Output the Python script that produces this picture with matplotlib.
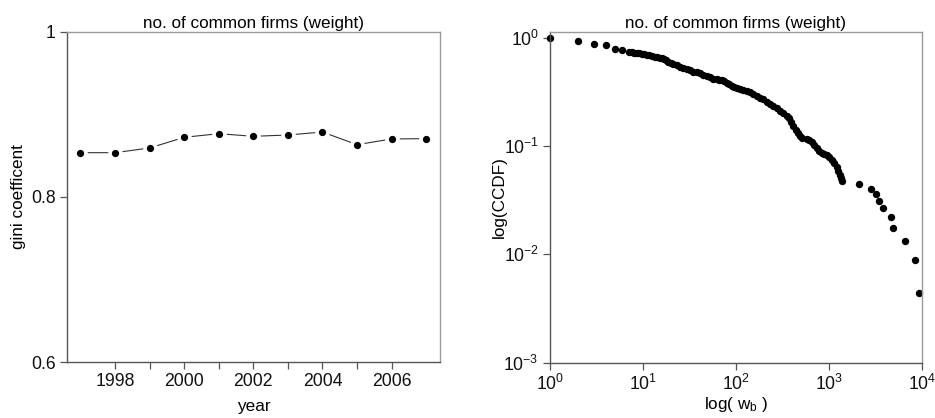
import matplotlib
matplotlib.use("Agg")
import matplotlib.pyplot as plt
import numpy as np

plt.rcParams['font.family'] = ['Liberation Sans', 'DejaVu Sans']
plt.rcParams['mathtext.fontset'] = 'custom'
plt.rcParams['mathtext.rm'] = 'Liberation Sans'
plt.rcParams['mathtext.it'] = 'Liberation Sans'

# ---- left panel data ----
years = [1997, 1998, 1999, 2000, 2001, 2002, 2003, 2004, 2005, 2006, 2007]
gini = [0.8536, 0.8536, 0.8593, 0.8722, 0.8766, 0.8734, 0.8750, 0.8786, 0.8633, 0.8702, 0.8706]
year_ticks = [1998, 1999, 2000, 2001, 2002, 2003, 2004, 2005, 2006]
year_labels = ['1998', '', '2000', '', '2002', '', '2004', '', '2006']
gini_ticks = [0.6, 0.8, 1.0]
gini_labels = ['0.6', '0.8', '1']

# ---- right panel data ----
weight = [1, 2, 3, 4, 5, 6,
          7.14, 7.63, 8.08, 8.56, 9.15, 9.69, 10.35, 10.97, 11.72, 12.52,
          13.49, 14.29, 15.26, 16.04, 16.86, 17.72, 18.77, 19.89, 21.24, 23.08,
          25.06, 27.22, 29.56, 32.10, 34.86, 37.87, 41.14, 44.67, 48.52, 52.71,
          57.24, 62.17, 66.41, 70.37, 74.56, 79.64, 85.09, 90.14, 95.50, 102.0,
          110.8, 120.4, 130.7, 142.0, 154.2, 167.5, 181.9, 197.6, 214.5, 233.0,
          253.1, 274.9, 298.5, 324.3, 352.3, 376.3, 395.4, 415.5, 443.9, 470.3,
          490.1, 510.8, 578.1, 617.6, 654.3, 693.2, 740.5, 791.1, 838.2, 888.1,
          948.9, 1013.7, 1074, 1138, 1216, 1267, 1320, 1365, 1399,
          2130, 2826, 3222, 3494, 3862, 4636, 4946, 6607, 8467, 9346]
ccdf = [1.0, 0.93, 0.88, 0.857, 0.79, 0.768,
        0.7395, 0.7342, 0.7291, 0.7240, 0.7188, 0.7138, 0.7087, 0.6987, 0.6889, 0.6792,
        0.6697, 0.6649, 0.6555, 0.6463, 0.6372, 0.6194, 0.6021, 0.5895, 0.5730, 0.5569,
        0.5414, 0.5263, 0.5116, 0.5006, 0.4869, 0.4800, 0.4699, 0.4567, 0.4440, 0.4316,
        0.4196, 0.4137, 0.4108, 0.4079, 0.3965, 0.3854, 0.3719, 0.3590, 0.3489, 0.3416,
        0.3368, 0.3297, 0.3251, 0.3182, 0.3050, 0.2903, 0.2802, 0.2704, 0.2573, 0.2448,
        0.2346, 0.2233, 0.2126, 0.2008, 0.1911, 0.1805, 0.1682, 0.1534, 0.1409, 0.1312,
        0.1241, 0.1180, 0.1163, 0.1139, 0.1100, 0.1031, 0.0968, 0.0908, 0.0870, 0.0852,
        0.0828, 0.0788, 0.0745, 0.0704, 0.0646, 0.0594, 0.0541, 0.0508, 0.0480,
        0.0443, 0.0401, 0.0358, 0.0311, 0.0267, 0.0221, 0.0177, 0.0132, 0.0088, 0.0044]
w_ticks = [1, 10, 100, 1000, 10000]
w_labels = [r'$10^{0}$', r'$10^{1}$', r'$10^{2}$', r'$10^{3}$', r'$10^{4}$']
c_ticks = [0.001, 0.01, 0.1, 1]
c_labels = [r'$10^{-3}$', r'$10^{-2}$', r'$10^{-1}$', r'$10^{0}$']

title = 'no. of common firms (weight)'

fig = plt.figure(figsize=(9.35, 4.18), dpi=100)
ax1 = fig.add_axes([0.0713, 0.1333, 0.3993, 0.7909])
ax2 = fig.add_axes([0.5882, 0.1323, 0.3975, 0.7910])

def style(ax):
    for s in ['left', 'bottom']:
        ax.spines[s].set_color('#555555')
        ax.spines[s].set_linewidth(1.0)
    for s in ['top', 'right']:
        ax.spines[s].set_color('#9a9a9a')
        ax.spines[s].set_linewidth(1.0)
    ax.tick_params(direction='out', length=5, width=0.9, color='#555555',
                   labelsize=12.7, labelcolor='#111111')
    ax.tick_params(axis='x', pad=3)
    ax.tick_params(axis='y', pad=3)
    ax.minorticks_off()

# left panel
ax1.plot(years, gini, color='#333333', lw=0.8, zorder=1)
ax1.plot(years, gini, ls='none', marker='o', ms=9.5, mfc='white', mec='white', zorder=2)
ax1.plot(years, gini, ls='none', marker='o', ms=4.2, mfc='black', mec='black', zorder=3)
ax1.set_xlim(1996.6, 2007.4)
ax1.set_ylim(0.6, 1.0)
ax1.set_xticks(year_ticks)
ax1.set_xticklabels(year_labels)
ax1.set_yticks(gini_ticks)
ax1.set_yticklabels(gini_labels)
ax1.set_title(title, fontsize=12.3, pad=3)
ax1.set_xlabel('year', fontsize=12.3, labelpad=6)
ax1.set_ylabel('gini coefficent', fontsize=12.3)
ax1.yaxis.set_label_coords(-0.11, 0.5)
style(ax1)

# right panel
ax2.plot(weight, ccdf, ls='none', marker='o', ms=4.3, mfc='black', mec='black', clip_on=False)
ax2.set_xscale('log')
ax2.set_yscale('log')
ax2.set_xlim(1, 10000)
ax2.set_ylim(0.001, 1.13)
ax2.set_xticks(w_ticks)
ax2.set_xticklabels(w_labels)
ax2.set_yticks(c_ticks)
ax2.set_yticklabels(c_labels)
ax2.set_title(title, fontsize=12.3, pad=3)
ax2.set_xlabel(r'log( w$_{\mathregular{b}}$ )', fontsize=12.3, labelpad=1)
ax2.set_ylabel('log(CCDF)', fontsize=12.3)
ax2.yaxis.set_label_coords(-0.115, 0.5)
style(ax2)
ax2.minorticks_off()

fig.savefig('out.png', dpi=100)
